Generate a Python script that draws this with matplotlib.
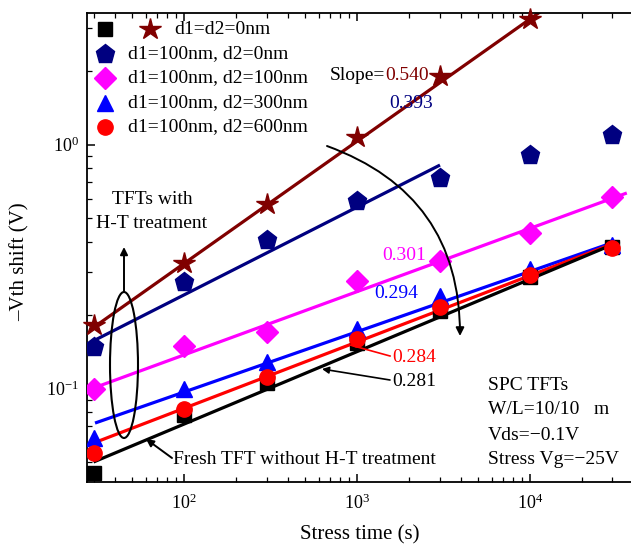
import numpy as np
import matplotlib
matplotlib.use("Agg")
import matplotlib.pyplot as plt
from matplotlib.patches import Ellipse, FancyArrowPatch
from matplotlib.lines import Line2D

plt.rcParams['font.family'] = ['Liberation Serif', 'DejaVu Serif']
plt.rcParams['mathtext.fontset'] = 'custom'
plt.rcParams['mathtext.rm'] = 'Liberation Serif'
plt.rcParams['mathtext.it'] = 'Liberation Serif:italic'

# ---------------- data ----------------
times = [30, 100, 300, 1000, 3000, 10000, 30000]
labels = ["d1=d2=0nm", "d1=100nm, d2=0nm", "d1=100nm, d2=100nm",
          "d1=100nm, d2=300nm", "d1=100nm, d2=600nm"]
fresh = [0.045, 0.078, 0.105, 0.154, 0.208, 0.286, 0.38]
d0_0 = [0.182, 0.327, 0.57, 1.07, 1.91, 3.27]
d100_0 = [0.148, 0.273, 0.406, 0.586, 0.729, 0.906, 1.09]
d100_100 = [0.0995, 0.149, 0.17, 0.276, 0.333, 0.434, 0.61]
d100_300 = [0.063, 0.0995, 0.128, 0.175, 0.239, 0.309, 0.387]
d100_600 = [0.0544, 0.0824, 0.111, 0.16, 0.216, 0.292, 0.377]

# fitted lines: start/end time and value
fit_names = ["0.540", "0.393", "0.301", "0.294", "0.284", "0.281"]
fit_t0 = [30, 29, 30, 30.6, 30, 30]
fit_t1 = [12000, 3020, 36300, 30600, 32500, 33000]
fit_v0 = [0.178, 0.155, 0.1005, 0.0722, 0.0598, 0.050]
fit_v1 = [3.58, 0.824, 0.633, 0.398, 0.40, 0.40]

c_star = '#800000'
c_navy = '#000080'
c_mag = '#FF00FF'
c_blue = '#0000FF'
c_red = '#FF0000'
c_blk = '#000000'
fit_colors = [c_star, c_navy, c_mag, c_blue, c_red, c_blk]

W, H = 631, 546
fig = plt.figure(figsize=(W / 100, H / 100), dpi=100)
L, R, T, B = 87, 632, 13, 482
ax = fig.add_axes([L / W, 1 - B / H, (R - L) / W, (B - T) / H])
ax.set_xscale('log')
ax.set_yscale('log')
ax.set_xlim(27.5, 38900)
ax.set_ylim(0.0414, 3.46)


def P(x, y):
    return (x / W, 1 - y / H)


# fit lines
for t0, t1, v0, v1, c in zip(fit_t0, fit_t1, fit_v0, fit_v1, fit_colors):
    ax.plot([t0, t1], [v0, v1], color=c, lw=2.3, zorder=2, solid_capstyle='butt')

# data markers
ax.plot(times, fresh, ls='none', marker='s', ms=10, color=c_blk, zorder=3, clip_on=False)
ax.plot(times[:len(d0_0)], d0_0, ls='none', marker='*', ms=16, color=c_star, zorder=3, clip_on=False)
ax.plot(times, d100_0, ls='none', marker='p', ms=14, color=c_navy, zorder=3)
ax.plot(times, d100_100, ls='none', marker='D', ms=11, color=c_mag, zorder=3)
ax.plot(times, d100_300, ls='none', marker='^', ms=12, color=c_blue, zorder=3)
ax.plot(times, d100_600, ls='none', marker='o', ms=11, color=c_red, zorder=3)

# axes styling
ax.spines['right'].set_visible(False)
for s in ['left', 'bottom', 'top']:
    ax.spines[s].set_linewidth(1.3)
ax.tick_params(which='both', direction='in', top=True, right=False, labelsize=13)
ax.tick_params(which='major', length=6, width=1.1)
ax.tick_params(which='minor', length=3.5, width=0.9)
ax.tick_params(axis='x', pad=8)
ax.tick_params(axis='y', pad=6)
ax.set_xlabel("Stress time (s)", fontsize=15, labelpad=9)
ax.set_ylabel("\u2013Vth shift (V)", fontsize=15)
ax.yaxis.set_label_coords(-0.106, 0.469)

# legend (manual)
fs = 14
leg_rows_y = [29, 54, 78, 103, 127]
leg_markers = [('s', c_blk, 10), ('p', c_navy, 14), ('D', c_mag, 11), ('^', c_blue, 12), ('o', c_red, 11)]
for i, (yy, (m, c, ms)) in enumerate(zip(leg_rows_y, leg_markers)):
    fig.add_artist(Line2D([P(105, yy)[0]], [P(105, yy)[1]], marker=m, color=c, ms=ms, ls='none'))
    tx = 174 if i == 0 else 128
    fig.text(*P(tx, yy), labels[i], fontsize=fs, va='center', ha='left')
fig.add_artist(Line2D([P(150, 29)[0]], [P(150, 29)[1]], marker='*', color=c_star, ms=16, ls='none'))

# slope annotations
t1 = fig.text(*P(330, 75), "Slope=", fontsize=fs, va='center', ha='left')
ax.annotate(fit_names[0], xy=(1, 0), xycoords=t1, va='bottom', ha='left',
            fontsize=fs, color=c_star)
fig.text(*P(389, 103), fit_names[1], fontsize=fs, va='center', color=c_navy)
fig.text(*P(382, 255), fit_names[2], fontsize=fs, va='center', color=c_mag)
fig.text(*P(374, 294), fit_names[3], fontsize=fs, va='center', color=c_blue)
fig.text(*P(392, 357), fit_names[4], fontsize=fs, va='center', color=c_red)
fig.text(*P(392, 381), fit_names[5], fontsize=fs, va='center', color=c_blk)
fig.add_artist(Line2D([P(350, 345)[0], P(390, 356)[0]], [P(350, 345)[1], P(390, 356)[1]],
                      color=c_red, lw=1.2))
fig.add_artist(FancyArrowPatch(P(390, 380), P(322, 369), transform=fig.transFigure,
                               arrowstyle='-|>', mutation_scale=10, color='k', lw=1.2,
                               shrinkA=0, shrinkB=0))

# fresh TFT annotation
fig.text(*P(173, 460), "Fresh TFT without H-T treatment", fontsize=fs, va='center')
fig.add_artist(FancyArrowPatch(P(172, 458), P(146, 439), transform=fig.transFigure,
                               arrowstyle='-|>', mutation_scale=11, color='k', lw=1.4,
                               shrinkA=0, shrinkB=0))

# TFTs with H-T treatment
fig.text(*P(152, 199), "TFTs with", fontsize=fs, va='center', ha='center')
fig.text(*P(152, 224), "H-T treatment", fontsize=fs, va='center', ha='center')
ell = Ellipse(P(124, 365), 28 / W, 146 / H, transform=fig.transFigure,
              fill=False, ec='k', lw=1.5)
fig.add_artist(ell)
fig.add_artist(FancyArrowPatch(P(124, 292), P(124, 247), transform=fig.transFigure,
                               arrowstyle='-|>', mutation_scale=11, color='k', lw=1.4,
                               shrinkA=0, shrinkB=0))

# curved arrow
fig.add_artist(FancyArrowPatch(P(327, 146), P(460, 336), transform=fig.transFigure,
                               connectionstyle='arc3,rad=-0.35',
                               arrowstyle='-|>', mutation_scale=12, color='k', lw=1.4,
                               shrinkA=0, shrinkB=0))

# condition box text
for yy, s in zip([385, 410, 436, 460],
                 ["SPC TFTs", "W/L=10/10   m", "Vds=\u22120.1V", "Stress Vg=\u221225V"]):
    fig.text(*P(488, yy), s, fontsize=fs, va='center', ha='left')

fig.savefig("out.png", dpi=100)
